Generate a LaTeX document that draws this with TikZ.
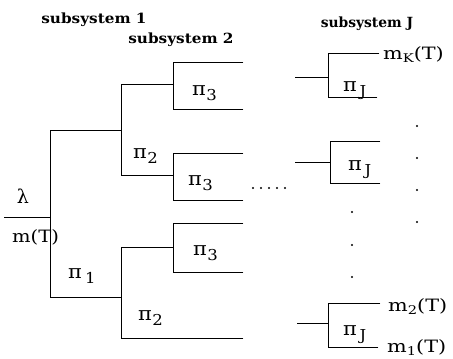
\documentclass[tikz,border=0pt]{standalone}
\usepackage{fontspec}
\setmainfont{DejaVu Serif}
\usepackage{graphicx}
\newcommand\PiLab[2][0.5pt]{\scalebox{1.1}[1]{{\fontsize{19}{19}\selectfont π}\kern#1\raisebox{-5pt}{\fontsize{15}{15}\selectfont #2}}}
\newcommand\MLab[1]{\scalebox{1.22}[1]{m\raisebox{-3.5pt}{\fontsize{12}{12}\selectfont #1}(T)}}
\tikzset{
  wire/.style={line width=0.9pt, line cap=rect},
  lab/.style={inner sep=0pt, font=\fontsize{17}{19}\selectfont, anchor=base west},
  sub/.style={inner sep=0pt, font=\fontsize{14}{16}\selectfont\bfseries, anchor=base},
  dotm/.style={fill=black}
}
\begin{document}
\begin{tikzpicture}[x=1pt,y=-1pt]
\useasboundingbox (0,0) rectangle (453,359);
% coordinates
\coordinate (r0) at (4,217); \coordinate (r1) at (50,217);
\coordinate (a) at (50,130); \coordinate (b) at (50,297);
\coordinate (a1) at (121,130); \coordinate (a1t) at (121,84); \coordinate (a1b) at (121,175);
\coordinate (p1) at (173,84); \coordinate (p1t) at (173,62); \coordinate (p1b) at (173,109);
\coordinate (p1te) at (243,62); \coordinate (p1be) at (243,109);
\coordinate (p2) at (173,175); \coordinate (p2t) at (173,153); \coordinate (p2b) at (173,200);
\coordinate (p2te) at (243,153); \coordinate (p2be) at (243,200);
\coordinate (b1) at (121,297); \coordinate (b1t) at (121,247); \coordinate (b1b) at (121,338);
\coordinate (b1be) at (243,338);
\coordinate (p3) at (173,247); \coordinate (p3t) at (173,223); \coordinate (p3b) at (173,272);
\coordinate (p3te) at (243,223); \coordinate (p3be) at (243,272);
% right column
\coordinate (s1) at (295,77); \coordinate (j1) at (328,77);
\coordinate (j1t) at (328,53); \coordinate (j1te) at (379,53);
\coordinate (j1b) at (328,97); \coordinate (j1be) at (377,97);
\coordinate (s2) at (295,162); \coordinate (j2) at (330,162);
\coordinate (j2t) at (330,141); \coordinate (j2te) at (380,141);
\coordinate (j2b) at (330,183); \coordinate (j2be) at (380,183);
\coordinate (s3) at (297,323); \coordinate (j3) at (328,323);
\coordinate (j3t) at (328,303); \coordinate (j3te) at (380,303);
\coordinate (j3b) at (328,347); \coordinate (j3be) at (378,347);
% tree
\draw[wire] (r0) -- (r1);
\draw[wire] (a) -- (b);
\draw[wire] (a) -- (a1);
\draw[wire] (a1t) -- (a1b);
\draw[wire] (a1t) -- (p1);
\draw[wire] (p1te) -- (p1t) -- (p1b) -- (p1be);
\draw[wire] (a1b) -- (p2);
\draw[wire] (p2te) -- (p2t) -- (p2b) -- (p2be);
\draw[wire] (b) -- (b1);
\draw[wire] (b1t) -- (b1b) -- (b1be);
\draw[wire] (b1t) -- (p3);
\draw[wire] (p3te) -- (p3t) -- (p3b) -- (p3be);
\draw[wire] (s1) -- (j1);
\draw[wire] (j1te) -- (j1t) -- (j1b) -- (j1be);
\draw[wire] (s2) -- (j2);
\draw[wire] (j2te) -- (j2t) -- (j2b) -- (j2be);
\draw[wire] (s3) -- (j3);
\draw[wire] (j3te) -- (j3t) -- (j3b) -- (j3be);
% dots
\foreach \i/\xx in {1/253,2/261,3/269,4/277,5/285}
  \fill[dotm] (\xx,188) coordinate (h\i) circle (1.1pt);
\foreach \i/\yy in {1/212,2/245,3/277}
  \fill[dotm] (352,\yy) coordinate (v\i) circle (1.1pt);
\foreach \i/\yy in {1/126,2/158,3/190,4/222}
  \fill[dotm] (417,\yy) coordinate (w\i) circle (1.1pt);
% labels
\node[lab, anchor=base, font=\fontsize{19}{21}\selectfont] (lam) at (23,203) {λ};
\node[lab] (mT) at (12,242) {\scalebox{1.15}[1]{m(T)}};
\node[lab] (pi1) at (68,278) {\PiLab[3pt]{1}};
\node[lab] (pi2u) at (133,158) {\PiLab{2}};
\node[lab] (pi3a) at (192,95) {\PiLab{3}};
\node[lab] (pi3b) at (188,185) {\PiLab{3}};
\node[lab] (pi3c) at (193,255) {\PiLab{3}};
\node[lab] (pi2l) at (138,320) {\PiLab{2}};
\node[lab] (piJa) at (343,91) {\PiLab[2.5pt]{J}};
\node[lab] (piJb) at (348,170) {\PiLab[2.5pt]{J}};
\node[lab] (piJc) at (343,335) {\PiLab[2.5pt]{J}};
\node[lab] (mK) at (383,59) {\MLab{K}};
\node[lab] (m2) at (388,311) {\MLab{2}};
\node[lab] (m1) at (387,352) {\MLab{1}};
\node[sub] (ss1) at (94,23) {\scalebox{1.09}[1]{subsystem 1}};
\node[sub] (ss2) at (181,43) {\scalebox{1.09}[1]{subsystem 2}};
\node[sub] (ssJ) at (367,27) {\scalebox{0.99}[1]{subsystem J}};
\end{tikzpicture}
\end{document}
